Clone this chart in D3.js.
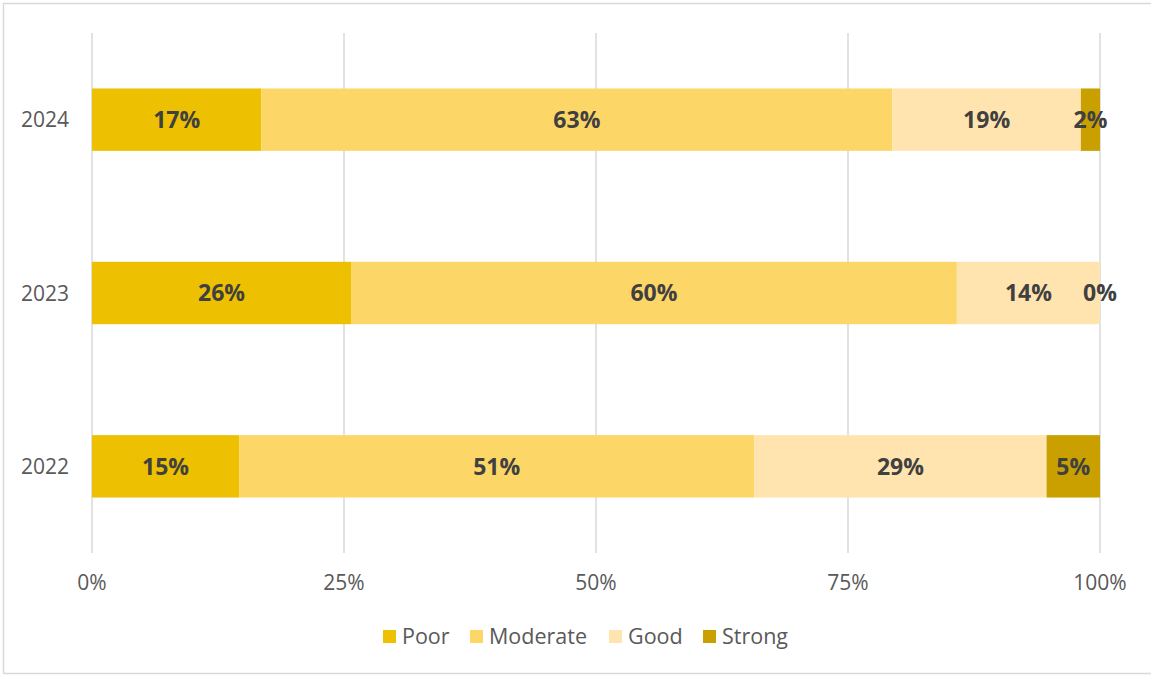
<!DOCTYPE html>
<html><head><meta charset="utf-8">
<script src="https://cdn.jsdelivr.net/npm/d3@7"></script>
<style>body{margin:0;background:#fff;} svg{display:block;}</style>
</head><body>
<svg id="chart" width="1151" height="675"></svg>
<script>
const categories = ["2024", "2023", "2022"];
const seriesNames = ["Poor", "Moderate", "Good", "Strong"];
const poor = [16.8, 25.7, 14.6];
const moderate = [62.6, 60.1, 51.1];
const good = [18.7, 14.2, 29.0];
const strong = [1.9, 0.0, 5.3];
const xTicks = [0, 25, 50, 75, 100];
const colors = ["#EDC001", "#FDD668", "#FFE4B0", "#C9A000"];

const svg = d3.select("#chart");
const W = 1151, H = 675;
const font = "'Open Sans', sans-serif";
svg.append("rect").attr("x", 3.5).attr("y", 3.5).attr("width", W + 5).attr("height", H - 5)
  .attr("fill", "#fff").attr("stroke", "#d9d9d9").attr("stroke-width", 1.5);

const m = {left: 92, right: 1100, top: 33, bottom: 553};
const x = d3.scaleLinear().domain([0, 100]).range([m.left, m.right]);
const y = d3.scaleBand().domain(categories).range([m.top, m.bottom]).paddingInner(0.64).paddingOuter(0.32);

const rows = categories.map((c, i) => ({cat: c, Poor: poor[i], Moderate: moderate[i], Good: good[i], Strong: strong[i]}));
const stack = d3.stack().keys(seriesNames)(rows);

// gridlines
svg.append("g").selectAll("line").data(xTicks).join("line")
  .attr("x1", d => x(d)).attr("x2", d => x(d)).attr("y1", m.top).attr("y2", m.bottom)
  .attr("stroke", "#d9d9d9").attr("stroke-width", 1.5);

// bars
const g = svg.append("g");
stack.forEach((s, si) => {
  g.append("g").attr("fill", colors[si]).selectAll("rect").data(s).join("rect")
    .attr("x", d => x(d[0])).attr("width", d => x(d[1]) - x(d[0]))
    .attr("y", d => y(d.data.cat)).attr("height", y.bandwidth());
});
// labels
stack.forEach((s, si) => {
  g.append("g").selectAll("text").data(s).join("text")
    .attr("x", d => (x(d[0]) + x(d[1])) / 2)
    .attr("y", d => y(d.data.cat) + y.bandwidth() / 2)
    .attr("dy", "0.36em").attr("text-anchor", "middle")
    .attr("font-family", font).attr("font-weight", "bold").attr("font-size", 23)
    .attr("fill", "#404040")
    .text(d => Math.round(d[1] - d[0]) + "%");
});

// y axis labels
svg.append("g").selectAll("text").data(categories).join("text")
  .attr("x", 69).attr("y", d => y(d) + y.bandwidth() / 2).attr("dy", "0.36em")
  .attr("text-anchor", "end").attr("font-family", font).attr("font-size", 21).attr("fill", "#595959")
  .text(d => d);

// x axis labels
svg.append("g").selectAll("text").data(xTicks).join("text")
  .attr("x", d => x(d)).attr("y", 582.5).attr("dy", "0.36em")
  .attr("text-anchor", "middle").attr("font-family", font).attr("font-size", 21).attr("fill", "#595959")
  .text(d => d + "%");

// legend
const legX = [383, 470, 609, 703];
const leg = svg.append("g");
seriesNames.forEach((n, i) => {
  leg.append("rect").attr("x", legX[i]).attr("y", 630).attr("width", 13).attr("height", 13).attr("fill", colors[i]);
  leg.append("text").attr("x", legX[i] + 19).attr("y", 636.5).attr("dy", "0.36em")
    .attr("font-family", font).attr("font-size", 21.5).attr("fill", "#595959").text(n);
});
</script>
</body></html>
